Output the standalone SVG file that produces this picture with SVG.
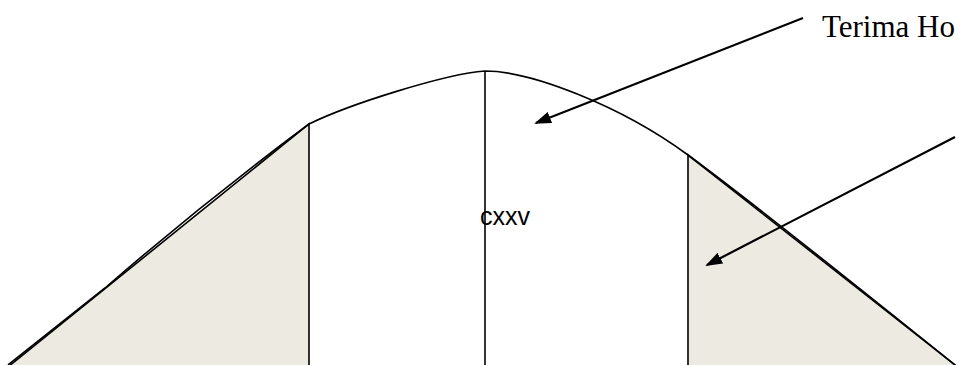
<svg xmlns="http://www.w3.org/2000/svg" width="961" height="365" viewBox="0 0 961 365">
  <style>
    .shade { fill: #EDEBE1; stroke: #000; stroke-width: 1.6; stroke-linejoin: miter; }
    .curve { fill: none; stroke: #000; stroke-width: 1.6; }
    .vline { stroke: #000; stroke-width: 1.6; }
    .arrow { stroke: #000; stroke-width: 2.2; fill: none; marker-end: url(#head); }
    .serif { font-family: "Liberation Serif", "Times New Roman", serif; font-size: 31px; fill: #000; }
    .sans { font-family: "Liberation Sans", Arial, sans-serif; font-size: 25px; fill: #000; }
  </style>
  <defs>
    <marker id="head" markerUnits="userSpaceOnUse" markerWidth="17" markerHeight="12" refX="15" refY="6" orient="auto">
      <path d="M0,0 L17,6 L0,12 z" fill="#000"/>
    </marker>
  </defs>
  <rect width="961" height="365" fill="#fff"/>

  <g id="region-left">
    <polygon class="shade" points="309,124 309,372 1.75,372"/>
  </g>
  <g id="region-right">
    <polygon class="shade" points="688,155 964,372 688,372"/>
  </g>

  <g id="curve">
    <path class="curve" d="M8,365 L105,288 Q204,202 309,124 C350,104 445,74 485,71 C530,71 620,105 688,155 Q760,208 955,365"/>
  </g>

  <g id="center-line">
    <line class="vline" x1="485" y1="71" x2="485" y2="372"/>
  </g>

  <g id="label-center">
    <text class="sans" x="480" y="225">cxxv</text>
  </g>
  <g id="label-top">
    <text class="serif" x="822" y="37">Terima Ho</text>
  </g>

  <g id="connectors">
    <line class="arrow" x1="803" y1="18" x2="536" y2="123"/>
    <line class="arrow" x1="955" y1="137" x2="707" y2="265"/>
  </g>
</svg>
